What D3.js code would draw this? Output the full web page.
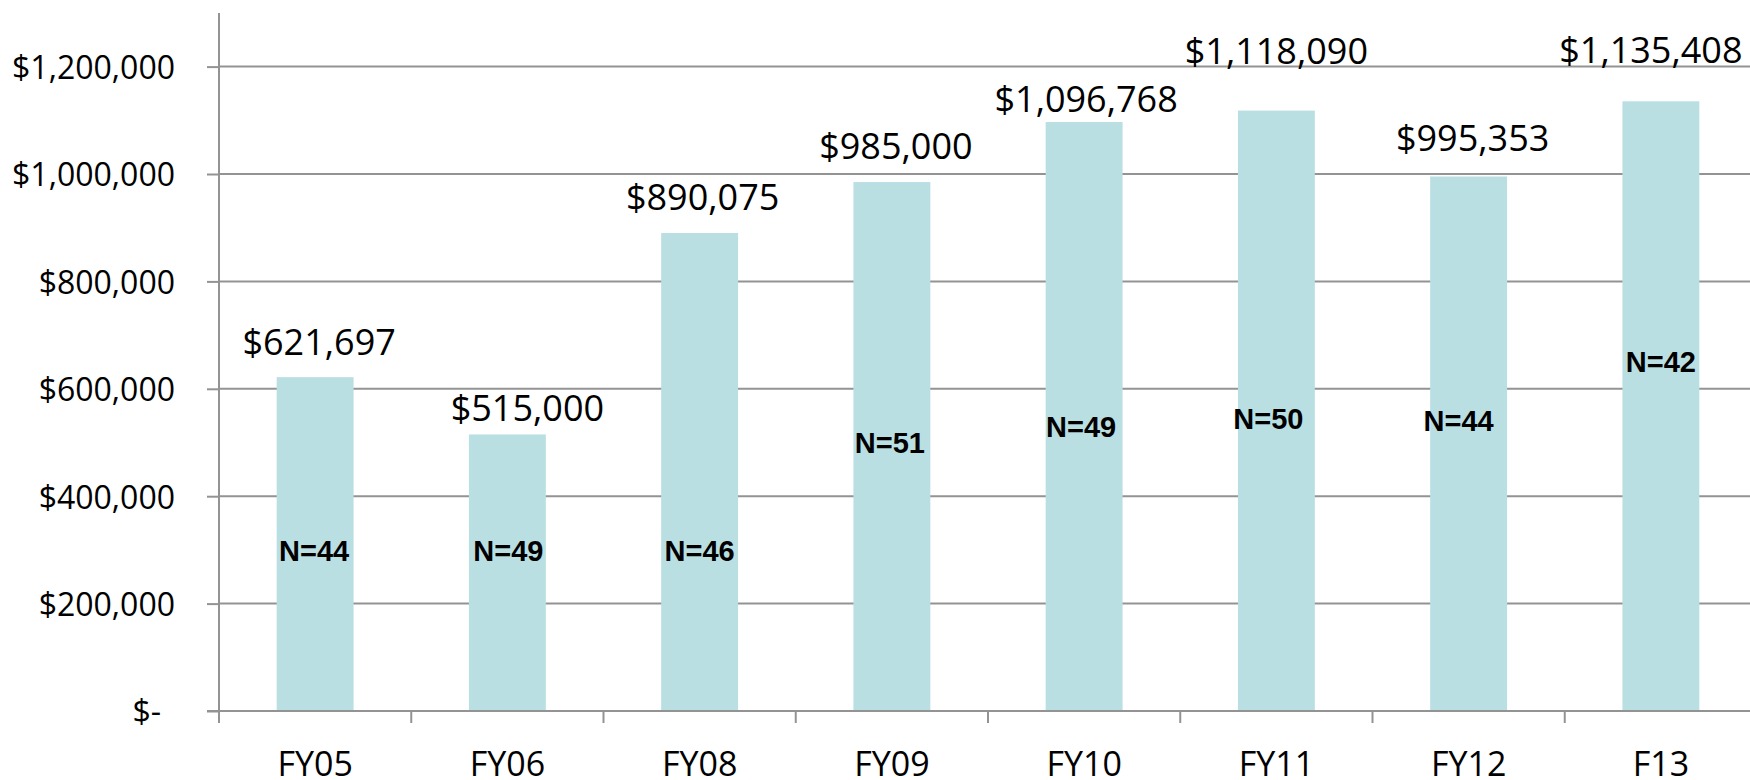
<!DOCTYPE html>
<meta charset="utf-8">

<!-- Load d3.js -->
<script src="https://d3js.org/d3.v7.min.js"></script>

<style>
    body {
        margin: 0;
        background-color: white;
        overflow: hidden;
    }
    text {
        font-family: "Open Sans", sans-serif;
        fill: black;
    }
    .nlabel {
        font-family: "Liberation Sans", Arial, sans-serif;
        font-weight: bold;
    }
</style>

<div id="my_dataviz"></div>

<script>
    // data
    var years = ["FY05", "FY06", "FY08", "FY09", "FY10", "FY11", "FY12", "F13"];
    var totals = [621697, 515000, 890075, 985000, 1096768, 1118090, 995353, 1135408];
    var counts = [44, 49, 46, 51, 49, 50, 44, 42];
    var yTicks = [0, 200000, 400000, 600000, 800000, 1000000, 1200000];

    // where the N= boxes sit (in dollars) and how the value labels were nudged
    var nLabelAt = [280000, 280000, 280000, 480000, 510000, 526000, 522000, 632000];
    var nLabelDx = [-1, 1, 0, -2, -3, -8, -10, 0];
    var valueDx = [4, 20, 3, 4, 2, 0, 4, -10];
    var valueGap = [22, 13, 23, 23, 10, 47, 25, 38];

    // dimensions
    var W = 1750, H = 780;
    var left = 219, right = 1757, bottom = 711;

    var svg = d3.select("#my_dataviz")
        .append("svg")
        .attr("width", W)
        .attr("height", H);

    var x = d3.scaleBand()
        .domain(years)
        .range([left, right])
        .paddingInner(0.6)
        .paddingOuter(0.3);

    var y = d3.scaleLinear()
        .domain([0, 1200000])
        .range([bottom, 66.6]);

    var gridColor = "#939393";

    // gridlines
    svg.append("g")
        .selectAll("line")
        .data(yTicks.slice(1))
        .enter()
        .append("line")
        .attr("x1", left)
        .attr("x2", W)
        .attr("y1", function(d) { return y(d); })
        .attr("y2", function(d) { return y(d); })
        .style("stroke", gridColor)
        .style("stroke-width", 2);

    // Y axis with ticks and labels
    var yAxis = svg.append("g")
        .attr("transform", "translate(" + left + ",0)")
        .call(d3.axisLeft(y)
            .tickValues(yTicks)
            .tickSize(12)
            .tickPadding(32)
            .tickFormat(function(d) { return d === 0 ? "$-" : "$" + d3.format(",")(d); }));
    yAxis.select(".domain").remove();
    yAxis.selectAll(".tick line").style("stroke", gridColor).style("stroke-width", 2);
    yAxis.selectAll(".tick text")
        .attr("dy", "0.37em")
        .style("font-size", "32px")
        .style("font-family", "'Open Sans', sans-serif")
        .attr("dx", function(d) { return d === 0 ? -14 : 0; });

    // Y axis line
    svg.append("line")
        .attr("x1", left).attr("x2", left)
        .attr("y1", 13).attr("y2", bottom + 12)
        .style("stroke", gridColor)
        .style("stroke-width", 2);

    // bars
    svg.append("g")
        .selectAll("rect")
        .data(totals)
        .enter()
        .append("rect")
        .attr("x", function(d, i) { return x(years[i]); })
        .attr("y", function(d) { return y(d); })
        .attr("width", x.bandwidth())
        .attr("height", function(d) { return bottom - y(d); })
        .style("fill", "#b9dfe3");

    // X axis
    var xAxis = svg.append("g")
        .attr("transform", "translate(0," + bottom + ")")
        .call(d3.axisBottom(x).tickSize(0).tickPadding(0));
    xAxis.select(".domain").remove();
    xAxis.selectAll(".tick text")
        .attr("y", 65)
        .attr("dy", 0)
        .style("font-size", "34px")
        .style("font-family", "'Open Sans', sans-serif");

    svg.append("line")
        .attr("x1", left - 12).attr("x2", W)
        .attr("y1", bottom).attr("y2", bottom)
        .style("stroke", gridColor)
        .style("stroke-width", 2);

    // category separators below the axis
    svg.append("g")
        .selectAll("line")
        .data(years.slice(1))
        .enter()
        .append("line")
        .attr("x1", function(d) { return x(d) - x.step() * x.paddingInner() / 2; })
        .attr("x2", function(d) { return x(d) - x.step() * x.paddingInner() / 2; })
        .attr("y1", bottom)
        .attr("y2", bottom + 12)
        .style("stroke", gridColor)
        .style("stroke-width", 2);

    // value labels
    svg.append("g")
        .selectAll("text")
        .data(totals)
        .enter()
        .append("text")
        .attr("x", function(d, i) { return x(years[i]) + x.bandwidth() / 2 + valueDx[i]; })
        .attr("y", function(d, i) { return y(d) - valueGap[i]; })
        .attr("text-anchor", "middle")
        .style("font-size", "36px")
        .text(function(d) { return "$" + d3.format(",")(d); });

    // N= labels
    svg.append("g")
        .selectAll("text")
        .data(counts)
        .enter()
        .append("text")
        .attr("class", "nlabel")
        .attr("x", function(d, i) { return x(years[i]) + x.bandwidth() / 2 + nLabelDx[i]; })
        .attr("y", function(d, i) { return y(nLabelAt[i]); })
        .attr("text-anchor", "middle")
        .style("font-size", "29px")
        .text(function(d) { return "N=" + d; });
</script>
